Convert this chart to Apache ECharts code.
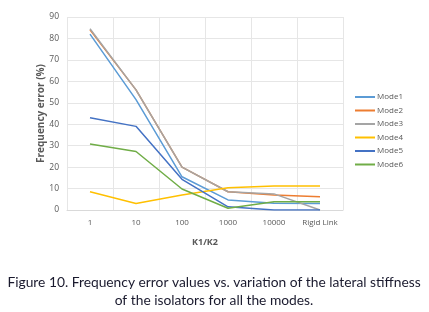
<!DOCTYPE html>
<html><head><meta charset="utf-8">
<script src="https://cdn.jsdelivr.net/npm/echarts@6/dist/echarts.min.js"></script>
<style>html,body{margin:0;padding:0;background:#fff}#c{width:429px;height:312px}</style>
</head><body><div id="c"></div>
<script>
const categories = ['1','10','100','1000','10000','Rigid Link'];
const mode1 = [82, 51.5, 15.5, 4.7, 3.1, 3];
const mode2 = [84, 56, 20, 8.5, 7, 6.2];
const mode3 = [84.5, 56, 20, 8.5, 7.5, 0];
const mode4 = [8.5, 3, 7, 10.4, 11.2, 11.2];
const mode5 = [43, 39, 14.3, 1.5, 0, 0];
const mode6 = [30.8, 27.3, 9.8, 0.8, 3.9, 3.9];
const seriesNames = ['Mode1','Mode2','Mode3','Mode4','Mode5','Mode6'];
const colors = ['#5B9BD5','#ED7D31','#A5A5A5','#FFC000','#4472C4','#70AD47'];
const yTicks = [0,10,20,30,40,50,60,70,80,90];
const data = [mode1, mode2, mode3, mode4, mode5, mode6];

const chart = echarts.init(document.getElementById('c'));
chart.setOption({
  animation: false,
  grid: {left: 67, top: 17, width: 276, height: 193, containLabel: false},
  legend: {
    orient: 'vertical', left: 350, top: 88, itemGap: 5.5, itemWidth: 20, itemHeight: 9,
    icon: 'path://M0,4 L20,4 L20,6 L0,6 Z',
    textStyle: {fontFamily: 'Open Sans', fontSize: 8, color: '#595959', padding: [0,0,0,-3]},
    data: seriesNames
  },
  xAxis: {
    type: 'category', data: categories, boundaryGap: true,
    name: 'K1/K2', nameLocation: 'middle', nameGap: 28, nameMoveOverlap: false,
    nameTextStyle: {fontFamily: 'Open Sans', fontSize: 9, fontWeight: 'bold', color: '#595959'},
    axisLine: {show: true, lineStyle: {color: '#d9d9d9'}},
    axisTick: {show: false, interval: 0},
    axisLabel: {interval: 0, fontFamily: 'Open Sans', fontSize: 8, color: '#595959', margin: 9},
    splitLine: {show: true, interval: 0, lineStyle: {color: '#e6e6e6'}}
  },
  yAxis: {
    type: 'value', min: 0, max: 90, interval: 10,
    name: 'Frequency error (%)', nameLocation: 'middle', nameGap: 21, nameRotate: 90, nameMoveOverlap: false,
    nameTextStyle: {fontFamily: 'Open Sans', fontSize: 10, fontWeight: 'bold', color: '#595959'},
    axisLine: {show: false}, axisTick: {show: false},
    axisLabel: {fontFamily: 'Open Sans', fontSize: 8.5, color: '#595959', margin: 8,
      formatter: v => yTicks.includes(v) ? String(v) : ''},
    splitLine: {show: true, lineStyle: {color: '#e6e6e6'}}
  },
  series: data.map((d, i) => ({
    name: seriesNames[i], type: 'line', data: d, symbol: 'none',
    lineStyle: {width: 1.5, color: colors[i]}, itemStyle: {color: colors[i]}
  })),
  graphic: [
    {type: 'text', x: 214, y: 283, style: {
      text: 'Figure 10. Frequency error values vs. variation of the lateral stiffness',
      textAlign: 'center', textVerticalAlign: 'middle', fontFamily: 'Lato', fontSize: 13.8, fill: '#1a1a2e'}},
    {type: 'text', x: 214, y: 301, style: {
      text: 'of the isolators for all the modes.',
      textAlign: 'center', textVerticalAlign: 'middle', fontFamily: 'Lato', fontSize: 13.8, fill: '#1a1a2e'}}
  ]
});
</script></body></html>
